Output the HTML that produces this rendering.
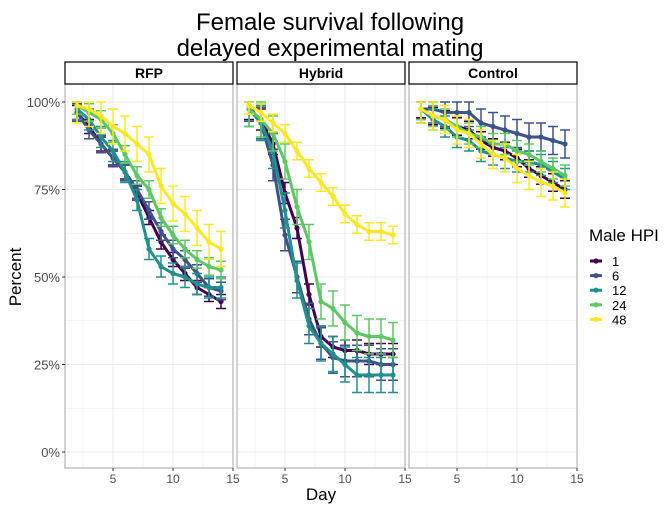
<!DOCTYPE html>
<html><head><meta charset="utf-8"><style>
body{margin:0;background:#fff;}
svg{display:block;font-family:"Liberation Sans",sans-serif;}
</style></head><body>
<svg id="c" width="669" height="505"></svg>
<script>
const days=[2,3,4,5,6,7,8,9,10,11,12,13,14];
const hpiLabels=["1","6","12","24","48"];
const colors=["#440154","#3B528B","#21908C","#5DC863","#FDE725"];
const panels=["RFP","Hybrid","Control"];
const rfp1=[97,93,88,84,80,74,67,60,55,51,47,45,43];
const rfp6=[97,92,88,84,80,75,69,63,58,55,51,47,46];
const rfp12=[98,95,90,86,80,72,58,53,51,50,48,47,47];
const rfp24=[99,97,95,91,85,79,75,67,62,58,55,53,52];
const rfp48=[99,98,96,93,91,88,85,76,71,68,64,60,58];
const hyb1=[98,95,88,74,64,45,33,30,29,29,28,28,28];
const hyb6=[99,94,82,62,50,38,31,27,26,26,26,25,25];
const hyb12=[98,94,86,69,49,36,31,28,25,22,22,22,22];
const hyb24=[98,95,91,83,70,60,43,41,37,34,33,33,32];
const hyb48=[99,97,94,91,86,81,77,73,68,65,63,63,62];
const con1=[98,96,95,93,92,89,87,86,84,81,79,77,75];
const con6=[98,98,97,97,97,94,93,92,91,90,90,89,88];
const con12=[98,95,93,90,89,86,85,84,83,83,82,80,78];
const con24=[98,96,95,93,91,90,88,88,86,85,83,81,79];
const con48=[98,96,95,92,91,88,85,84,81,79,77,76,74];
const errRFP=[2,2.5,3,2.5,5];
const errHyb=[3,4.5,5,5,2.5];
const errCon=[2.5,4,3,3,4];
const data=[[rfp1,rfp6,rfp12,rfp24,rfp48],[hyb1,hyb6,hyb12,hyb24,hyb48],[con1,con6,con12,con24,con48]];
const errs=[errRFP,errHyb,errCon];
const yTicks=[0,25,50,75,100];
const xTicks=[5,10,15];

const NS="http://www.w3.org/2000/svg";
const svg=document.getElementById('c');
function el(t,a,p){const e=document.createElementNS(NS,t);for(const k in a)e.setAttribute(k,a[k]);(p||svg).appendChild(e);return e;}
const pl=[65,237,409], pw=168, ptop=84, pbot=468;
function X(i,d){return pl[i]+(d-1)*12;}
function Y(v){return 452-(v/100)*350;}

let t=el('text',{x:330,y:30,'text-anchor':'middle','font-size':24,fill:'#000'});t.textContent="Female survival following";


t=el('text',{x:330,y:56,'text-anchor':'middle','font-size':24,fill:'#000'});t.textContent="delayed experimental mating";



panels.forEach((name,i)=>{
  const g=el('g',{});
  
  
  for(let v=0;v<=100;v+=12.5){el('line',{x1:pl[i],x2:pl[i]+pw,y1:Y(v),y2:Y(v),stroke:'#ebebeb','stroke-width':v%25===0?1:0.5},g);}
  for(let d=2.5;d<=15;d+=2.5){el('line',{x1:X(i,d),x2:X(i,d),y1:ptop,y2:pbot,stroke:'#ebebeb','stroke-width':d%5===0?1:0.5},g);}
  el('rect',{x:pl[i],y:ptop,width:pw,height:pbot-ptop,fill:'none',stroke:'#b3b3b3','stroke-width':1.2},g);
  const s=el('rect',{x:pl[i],y:62,width:pw,height:22,fill:'#fff',stroke:'#000','stroke-width':1.2},g);
  
  
  const st=el('text',{x:pl[i]+pw/2,y:78,'text-anchor':'middle','font-size':14,'font-weight':'bold'},g);st.textContent=name;
  
  
  xTicks.forEach(d=>{
    el('line',{x1:X(i,d),x2:X(i,d),y1:pbot,y2:pbot+3,stroke:'#333'},g);
    const tx=el('text',{x:X(i,d),y:pbot+15,'text-anchor':'middle','font-size':12,fill:'#4d4d4d'},g);tx.textContent=d;
    
    
  });
  data[i].forEach((ser,k)=>{
    const sg=el('g',{},g);
    
    
    const e=errs[i][k];
    ser.forEach((v,j)=>{
      const x=X(i,days[j]);
      el('line',{x1:x,x2:x,y1:Y(Math.min(100,v+e)),y2:Y(v-e),stroke:colors[k],'stroke-width':1.5},sg);
      el('line',{x1:x-5,x2:x+5,y1:Y(Math.min(100,v+e)),y2:Y(Math.min(100,v+e)),stroke:colors[k],'stroke-width':1.5},sg);
      el('line',{x1:x-5,x2:x+5,y1:Y(v-e),y2:Y(v-e),stroke:colors[k],'stroke-width':1.5},sg);
    });
    el('polyline',{points:ser.map((v,j)=>X(i,days[j])+','+Y(v)).join(' '),fill:'none',stroke:colors[k],'stroke-width':3,'stroke-linejoin':'round'},sg);
    ser.forEach((v,j)=>{el('circle',{cx:X(i,days[j]),cy:Y(v),r:2.6,fill:colors[k]},sg);});
  });
});
yTicks.forEach(v=>{
  el('line',{x1:62,x2:65,y1:Y(v),y2:Y(v),stroke:'#333'});
  const tx=el('text',{x:60,y:Y(v)+5,'text-anchor':'end','font-size':13,fill:'#4d4d4d'});tx.textContent=v+'%';
  
  
});
t=el('text',{x:0,y:0,'text-anchor':'middle','font-size':17,transform:'translate(21,277) rotate(-90)'});t.textContent='Percent';


t=el('text',{x:321,y:500,'text-anchor':'middle','font-size':17});t.textContent='Day';


t=el('text',{x:589,y:241,'font-size':17});t.textContent='Male HPI';


hpiLabels.forEach((l,k)=>{
  const y=261+k*14.6;
  const g=el('g',{});
  
  
  el('line',{x1:590,x2:602,y1:y,y2:y,stroke:colors[k],'stroke-width':3},g);
  el('circle',{cx:596,cy:y,r:2.6,fill:colors[k]},g);
  const tx=el('text',{x:612,y:y+5,'font-size':13},g);tx.textContent=l;
});
</script>
</body></html>
